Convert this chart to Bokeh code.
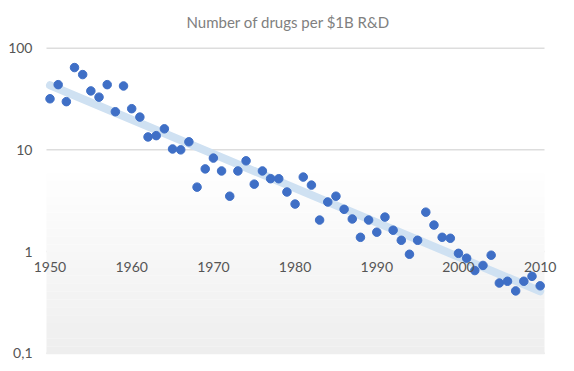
import numpy as np
from bokeh.plotting import figure
from bokeh.models import (Range1d, FixedTicker, CustomJSTickFormatter, BoxAnnotation,
                          ColumnDataSource, LabelSet, Title)
from bokeh.embed import file_html
from bokeh.resources import INLINE
from bokeh.core.properties import value

title_text = "Number of drugs per $1B R&D"

years = list(range(1950, 2011))
drugs = [31.8, 43.8, 29.8, 64.5, 55.0, 38.0, 33.0, 43.8, 23.7, 42.5,
         25.4, 21.0, 13.4, 13.8, 16.1, 10.2, 10.0, 12.0, 4.3, 6.5,
         8.3, 6.2, 3.5, 6.2, 7.8, 4.6, 6.2, 5.2, 5.2, 3.85,
         2.93, 5.4, 4.5, 2.04, 3.07, 3.5, 2.6, 2.09, 1.38, 2.04,
         1.55, 2.18, 1.62, 1.29, 0.94, 1.29, 2.44, 1.82, 1.38, 1.35,
         0.96, 0.86, 0.65, 0.73, 0.92, 0.49, 0.51, 0.41, 0.51, 0.57,
         0.46]

x_ticks = [1950, 1960, 1970, 1980, 1990, 2000, 2010]
x_tick_labels = ["1950", "1960", "1970", "1980", "1990", "2000", "2010"]
y_ticks = [0.1, 1, 10, 100]

FONT = "Lato"
PLOT_X0, PLOT_X1 = 1949.57, 2010.53   # extent of the visible plot area (grid, shading)

p = figure(width=566, height=363, y_axis_type="log",
           x_range=Range1d(1947.98, 2012.12), y_range=Range1d(0.0971, 103.9),
           output_backend="svg", toolbar_location=None,
           min_border_left=33, min_border_right=9, min_border_top=46, min_border_bottom=9)

p.background_fill_color = "white"
p.border_fill_color = "white"
p.outline_line_color = None

# subtle vertical gradient in the lower part of the plot area
n_bands = 24
lo, hi = np.log10(0.0971), np.log10(7.0)
edges = np.linspace(hi, lo, n_bands + 1)
for i in range(n_bands):
    t = (i + 0.5) / n_bands
    g = int(round(255 - t * (255 - 238)))
    p.add_layout(BoxAnnotation(left=PLOT_X0, right=PLOT_X1,
                               top=10 ** edges[i], bottom=10 ** edges[i + 1],
                               fill_color=f"#{g:02x}{g:02x}{g:02x}", fill_alpha=1.0,
                               line_color=None, level="underlay"))

# title
p.title.text = title_text
p.title.align = "left"
p.title.offset = 153
p.title.text_font = FONT
p.title.text_font_size = "15px"
p.title.text_font_style = "normal"
p.title.text_color = "#808080"

# empty spacer between title and plot area
p.add_layout(Title(text=" ", text_font_size="8px", standoff=0), "above")

# x axis hidden (labels drawn at the y=1 line)
p.xaxis.visible = False
p.xgrid.visible = False
p.ygrid.visible = False

# y axis
p.yaxis.ticker = FixedTicker(ticks=y_ticks, minor_ticks=[])
p.yaxis.formatter = CustomJSTickFormatter(code="return String(+tick.toFixed(3)).replace('.', ',');")
p.yaxis.axis_line_color = None
p.yaxis.major_tick_line_color = None
p.yaxis.minor_tick_line_color = None
p.yaxis.major_label_text_font = FONT
p.yaxis.major_label_text_font_size = "14px"
p.yaxis.major_label_text_color = "#555555"
p.yaxis.major_label_standoff = -5

# horizontal grid lines limited to the plot area
p.segment(x0=[PLOT_X0] * len(y_ticks), x1=[PLOT_X1] * len(y_ticks), y0=y_ticks, y1=y_ticks,
          line_color="#dddddd", line_width=1.5, level="underlay")

# trend line (least squares on log scale)
coef = np.polyfit(np.array(years, dtype=float), np.log10(np.array(drugs)), 1)
tx = np.array([years[0], years[-1]], dtype=float)
ty = 10 ** np.polyval(coef, tx)
p.line(tx, ty, line_color="#cfe1f2", line_width=8, line_cap="round")

# points
src = ColumnDataSource(dict(x=years, y=drugs))
p.scatter("x", "y", source=src, size=8.5, fill_color="#3f6fc6", line_color="#3f6fc6")

# x tick labels at the 1-line
lab = ColumnDataSource(dict(x=x_ticks, y=[1] * len(x_ticks), t=x_tick_labels))
p.add_layout(LabelSet(x="x", y="y", text="t", source=lab, text_font=value(FONT),
                      text_font_size=value("14px"), text_color="#555555", text_align="center",
                      text_baseline="top", y_offset=-10))

open("out.html", "w").write(file_html(p, INLINE))
